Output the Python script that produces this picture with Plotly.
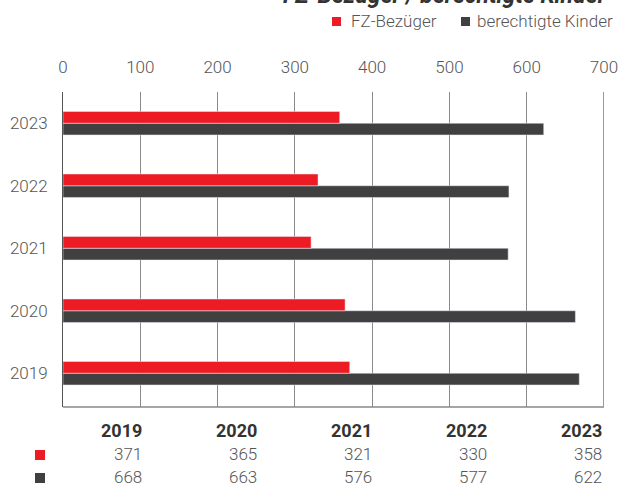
import plotly.graph_objects as go

# Data
years = ["2019", "2020", "2021", "2022", "2023"]
fz_bezueger = [371, 365, 321, 330, 358]
berechtigte_kinder = [668, 663, 576, 577, 622]
series_names = ["FZ-Bezüger", "berechtigte Kinder"]
x_ticks = [0, 100, 200, 300, 400, 500, 600, 700]

RED = "#ED1C24"
DARK = "#404040"
TEXT = "#555555"
FONT = "Roboto"

W, H = 619, 484
M = dict(l=63, r=15, t=92, b=77, autoexpand=False)
plot_w = W - M["l"] - M["r"]
plot_h = H - M["t"] - M["b"]


def px_x(px):
    return (px - M["l"]) / plot_w


def px_y(py):
    return (H - M["b"] - py) / plot_h


light = dict(family=FONT, size=17, color=TEXT, weight=300)

fig = go.Figure()
# dark bar first so the red one sits above it in each group
fig.add_trace(go.Bar(y=years, x=berechtigte_kinder, orientation="h",
                     name=series_names[1], marker_color=DARK, showlegend=False))
fig.add_trace(go.Bar(y=years, x=fz_bezueger, orientation="h",
                     name=series_names[0], marker_color=RED, showlegend=False))

fig.update_layout(
    width=W, height=H, margin=M,
    plot_bgcolor="white", paper_bgcolor="white",
    barmode="group", bargap=0.625, bargroupgap=0.0,
    font=light,
)

fig.update_xaxes(side="top", range=[0, 700], tickvals=x_ticks,
                 showgrid=True, gridcolor="#8a8a8a", gridwidth=1,
                 zeroline=False, showline=False, ticks="",
                 ticklabelstandoff=15, tickfont=light)
fig.update_yaxes(categoryorder="array", categoryarray=years,
                 range=[-0.54, 4.5],
                 showline=True, linecolor="#555555", linewidth=1,
                 showgrid=False, ticks="", ticklabelstandoff=11,
                 tickfont=light)

# bottom frame line and heavier right edge at 700
fig.add_shape(type="line", xref="paper", yref="paper",
              x0=0, x1=1, y0=0, y1=0, line=dict(color="#888888", width=1.5))
fig.add_shape(type="line", xref="x", yref="paper",
              x0=700, x1=700, y0=0, y1=1, line=dict(color="#999999", width=2))

# title (runs off the top edge of the page)
fig.add_annotation(text="<i><b>FZ-Bezüger / berechtigte Kinder</b></i>",
                   xref="paper", yref="paper", x=px_x(609), y=px_y(-4),
                   xanchor="right", yanchor="middle", showarrow=False,
                   font=dict(size=23, color="#333333", family=FONT))

# legend drawn as squares + labels
legend_items = [(series_names[0], RED, 332, 349), (series_names[1], DARK, 461, 475)]
for name, color, sq_x, txt_x in legend_items:
    fig.add_shape(type="rect", xref="paper", yref="paper",
                  x0=px_x(sq_x), x1=px_x(sq_x + 9), y0=px_y(26), y1=px_y(17),
                  fillcolor=color, line=dict(width=0))
    fig.add_annotation(text=name, xref="paper", yref="paper",
                       x=px_x(txt_x), y=px_y(21), xanchor="left", yanchor="middle",
                       showarrow=False, font=light)

# data table below the chart
col_right = [142, 257, 372, 487, 602]
rows = [(fz_bezueger, RED, 454), (berechtigte_kinder, DARK, 477)]
for i, yr in enumerate(years):
    fig.add_annotation(text=f"<b>{yr}</b>", xref="paper", yref="paper",
                       x=px_x(col_right[i] + 2), y=px_y(430), xanchor="right",
                       yanchor="middle", showarrow=False,
                       font=dict(size=18, color="#333333", family=FONT, weight=700))
    for vals, _, ypx in rows:
        fig.add_annotation(text=str(vals[i]), xref="paper", yref="paper",
                           x=px_x(col_right[i] + 2), y=px_y(ypx), xanchor="right",
                           yanchor="middle", showarrow=False, font=light)

for _, color, ypx in rows:
    fig.add_shape(type="rect", xref="paper", yref="paper",
                  x0=px_x(35), x1=px_x(45), y0=px_y(ypx + 6), y1=px_y(ypx - 4),
                  fillcolor=color, line=dict(width=0))

fig.write_html("out.html")
